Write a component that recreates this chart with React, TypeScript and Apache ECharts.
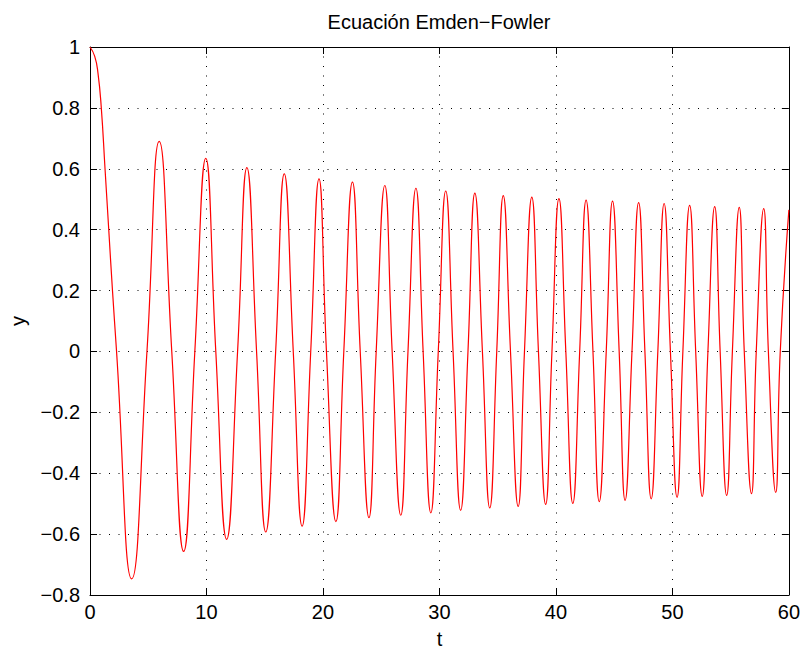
import React, { useEffect, useRef } from "react";
import * as echarts from "echarts";

// Solution of the Emden–Fowler equation: extrema and zero crossings of y(t)
const tValues = [
  0, 0.4, 0.68, 0.97, 1.29, 1.61, 1.93, 2.28,
  3.58, 4.89, 5.94, 7.02, 8.04, 9.0, 9.94, 10.8,
  11.73, 12.67, 13.47, 14.3, 15.09, 15.94, 16.68, 17.45,
  18.21, 18.95, 19.66, 20.3, 21.11, 21.79, 22.53, 23.2,
  23.95, 24.57, 25.31, 25.94, 26.68, 27.3, 27.98, 28.6,
  29.26, 29.9, 30.54, 31.17, 31.82, 32.45, 33.04, 33.69,
  34.32, 34.92, 35.48, 36.1, 36.76, 37.3, 37.93, 38.5,
  39.12, 39.66, 40.26, 40.85, 41.45, 42.04, 42.59, 43.18,
  43.72, 44.32, 44.86, 45.43, 45.94, 46.53, 47.1, 47.64,
  48.18, 48.75, 49.29, 49.83, 50.4, 50.9, 51.48, 52.0,
  52.56, 53.05, 53.63, 54.1, 54.66, 55.15, 55.74, 56.17,
  56.79, 57.2, 57.84, 58.24, 58.87, 59.26, 60,
];

const yValues = [
  1, 0.97, 0.916, 0.8, 0.6, 0.4, 0.2, 0,
  -0.747, 0, 0.69, 0, -0.657, 0, 0.634, 0,
  -0.617, 0, 0.604, 0, -0.593, 0, 0.583, 0,
  -0.574, 0, 0.567, 0, -0.559, 0, 0.556, 0,
  -0.546, 0, 0.545, 0, -0.538, 0, 0.536, 0,
  -0.53, 0, 0.527, 0, -0.522, 0, 0.52, 0,
  -0.514, 0, 0.512, 0, -0.509, 0, 0.507, 0,
  -0.502, 0, 0.502, 0, -0.499, 0, 0.497, 0,
  -0.493, 0, 0.494, 0, -0.489, 0, 0.489, 0,
  -0.484, 0, 0.486, 0, -0.479, 0, 0.48, 0,
  -0.476, 0, 0.476, 0, -0.473, 0, 0.473, 0,
  -0.467, 0, 0.469, 0, -0.463, 0, 0.465,
];

const TITLE = "Ecuación Emden\u2212Fowler";
const X_NAME = "t";
const Y_NAME = "y";
const X_RANGE = [0, 60];
const Y_RANGE = [-0.8, 1];
const X_STEP = 10;
const Y_STEP = 0.2;

const FONT = "'Liberation Sans', Arial, Helvetica, sans-serif";

function tickText(v: number): string {
  const a = parseFloat(Math.abs(v).toFixed(1));
  return (v < -1e-9 ? "\u2212" : "") + String(a);
}

export default function App() {
  const ref = useRef<HTMLDivElement>(null);

  useEffect(() => {
    if (!ref.current) return;
    const chart = echarts.init(ref.current, null, { renderer: "svg" });

    const gridBox = { left: 87, right: 12, top: 47, bottom: 52 };
    const tick = {
      show: true,
      inside: true,
      length: 7,
      lineStyle: { color: "#000", width: 1 },
    };
    const axisLine = {
      show: true,
      onZero: false,
      lineStyle: { color: "#000", width: 1 },
    };
    const dotted = {
      show: true,
      lineStyle: { color: "#000", width: 1, type: [1, 8.5] as number[] },
    };
    const labelStyle = { color: "#000", fontSize: 20, fontFamily: FONT };

    const points = tValues.map((t, i) => [t, yValues[i]]);

    chart.setOption({
      animation: false,
      backgroundColor: "#ffffff",
      grid: { ...gridBox, containLabel: false },
      graphic: [
        {
          type: "text",
          x: 87 + (803 - 87 - 12) / 2,
          y: 12,
          style: {
            text: TITLE,
            textAlign: "center",
            textVerticalAlign: "top",
            fontSize: 20,
            fontFamily: FONT,
            fill: "#000",
          },
        },
      ],
      xAxis: [
        {
          type: "value",
          position: "bottom",
          min: X_RANGE[0],
          max: X_RANGE[1],
          interval: X_STEP,
          name: X_NAME,
          nameLocation: "middle",
          nameGap: 34,
          nameTextStyle: labelStyle,
          axisLine,
          axisTick: tick,
          axisLabel: { ...labelStyle, margin: 7, formatter: tickText },
          splitLine: dotted,
        },
        {
          type: "value",
          position: "top",
          min: X_RANGE[0],
          max: X_RANGE[1],
          interval: X_STEP,
          axisLine,
          axisTick: tick,
          axisLabel: { show: false },
          splitLine: { show: false },
        },
      ],
      yAxis: [
        {
          type: "value",
          position: "left",
          min: Y_RANGE[0],
          max: Y_RANGE[1],
          interval: Y_STEP,
          name: Y_NAME,
          nameLocation: "middle",
          nameGap: 62,
          nameTextStyle: labelStyle,
          axisLine,
          axisTick: tick,
          axisLabel: { ...labelStyle, margin: 10, formatter: tickText },
          splitLine: dotted,
        },
        {
          type: "value",
          position: "right",
          min: Y_RANGE[0],
          max: Y_RANGE[1],
          interval: Y_STEP,
          axisLine,
          axisTick: tick,
          axisLabel: { show: false },
          splitLine: { show: false },
        },
      ],
      series: [
        {
          type: "line",
          xAxisIndex: 0,
          yAxisIndex: 0,
          data: points,
          smooth: 0.5,
          showSymbol: false,
          symbol: "none",
          lineStyle: { color: "#ff0000", width: 1.2 },
          clip: true,
          z: 3,
        },
      ],
    });

    return () => chart.dispose();
  }, []);

  return (
    <div
      ref={ref}
      style={{
        position: "absolute",
        left: 0,
        top: 0,
        width: 803,
        height: 654,
        background: "#fff",
      }}
    />
  );
}
